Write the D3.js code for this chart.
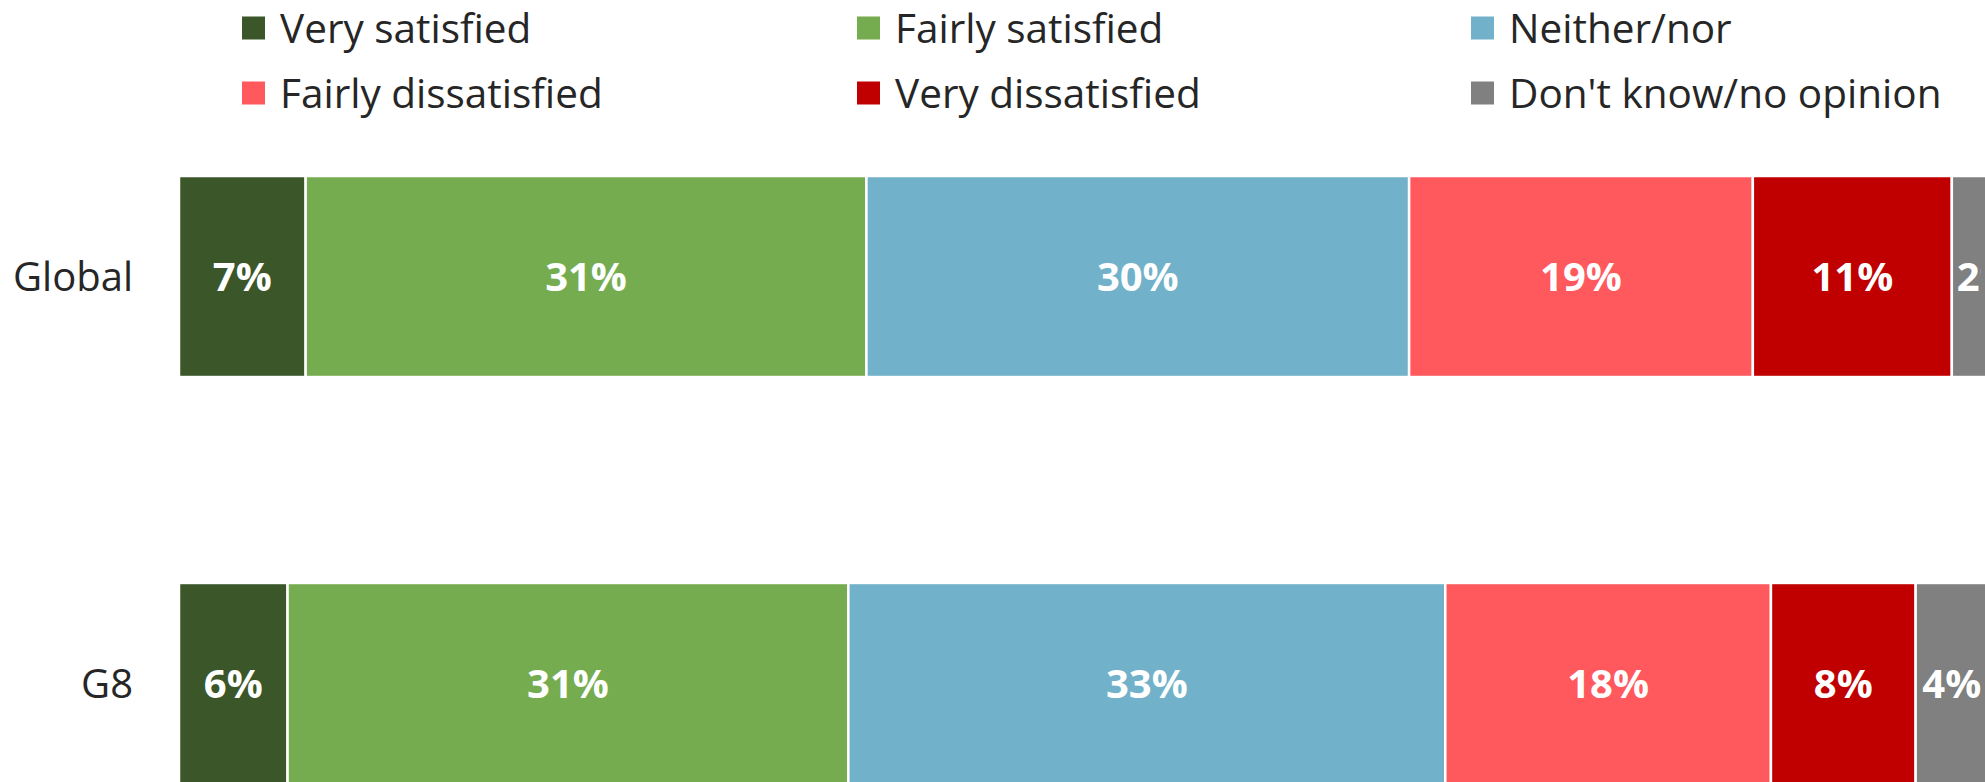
<!DOCTYPE html>
<html>
<head>
<meta charset="utf-8">
<script src="https://cdn.jsdelivr.net/npm/d3@7"></script>
<style>
  body { margin: 0; background: #fff; overflow: hidden; }
  text { font-family: "Open Sans", "Noto Sans", sans-serif; }
</style>
</head>
<body>
<script>
// data
var categories = ["Global", "G8"];
var seriesNames = ["Very satisfied", "Fairly satisfied", "Neither/nor",
                   "Fairly dissatisfied", "Very dissatisfied", "Don't know/no opinion"];
var globalValues = [7, 31, 30, 19, 11, 2];
var g8Values = [6, 31, 33, 18, 8, 4];
var colors = ["#3b5629", "#75ac50", "#71b1c9", "#ff595e", "#c00000", "#808080"];

var W = 1985, H = 782;

var svg = d3.select("body")
    .append("svg")
    .attr("width", W)
    .attr("height", H);

// labels are clipped a little inside the right edge
svg.append("clipPath")
    .attr("id", "labelClip")
    .append("rect")
    .attr("x", 0).attr("y", 0)
    .attr("width", W - 4).attr("height", H);

// scales
var xScale = d3.scaleLinear()
    .domain([0, 100])
    .range([179, 1988]);

var yScale = d3.scaleBand()
    .domain(categories)
    .range([176, 784])
    .paddingInner(0.506)
    .paddingOuter(0);

var color = d3.scaleOrdinal()
    .domain(seriesNames)
    .range(colors);

// build rows of stacked segments
var rows = [
    { cat: "Global", values: globalValues },
    { cat: "G8", values: g8Values }
];
rows.forEach(function(r) {
    var acc = 0;
    r.segs = r.values.map(function(v, i) {
        var s = { cat: r.cat, name: seriesNames[i], value: v, x0: acc, x1: acc + v };
        acc += v;
        return s;
    });
});

var row = svg.selectAll("g.row")
    .data(rows)
    .enter()
    .append("g")
    .attr("class", "row");

row.selectAll("rect")
    .data(function(d) { return d.segs; })
    .enter()
    .append("rect")
    .attr("x", function(d) { return xScale(d.x0); })
    .attr("y", function(d) { return yScale(d.cat); })
    .attr("width", function(d) { return xScale(d.x1) - xScale(d.x0); })
    .attr("height", yScale.bandwidth())
    .attr("fill", function(d) { return color(d.name); })
    .attr("stroke", "#fff")
    .attr("stroke-width", 2.5);

// value labels: centred, but a label that would run off the page starts inside its segment
row.append("g")
    .attr("clip-path", "url(#labelClip)")
    .selectAll("text.val")
    .data(function(d) { return d.segs; })
    .enter()
    .append("text")
    .attr("class", "val")
    .attr("y", function(d) { return yScale(d.cat) + yScale.bandwidth() / 2; })
    .attr("dy", "0.36em")
    .attr("fill", "#fff")
    .attr("font-weight", "bold")
    .attr("font-size", 40)
    .text(function(d) { return d.value + "%"; })
    .each(function(d) {
        var t = d3.select(this);
        var cx = (xScale(d.x0) + xScale(d.x1)) / 2;
        var len = this.getComputedTextLength();
        if (cx + len / 2 > W) {
            t.attr("x", xScale(d.x0) + 5).attr("text-anchor", "start");
        } else {
            t.attr("x", cx).attr("text-anchor", "middle");
        }
    });

// category labels
svg.selectAll("text.cat")
    .data(categories)
    .enter()
    .append("text")
    .attr("class", "cat")
    .attr("x", 133)
    .attr("y", function(d) { return yScale(d) + yScale.bandwidth() / 2; })
    .attr("dy", "0.36em")
    .attr("text-anchor", "end")
    .attr("fill", "#262626")
    .attr("font-size", 40)
    .text(function(d) { return d; });

// legend, 3 columns x 2 rows
var legendX = [242, 857, 1471];
var legendY = [28, 93];

var legend = svg.selectAll("g.legend")
    .data(seriesNames)
    .enter()
    .append("g")
    .attr("class", "legend")
    .attr("transform", function(d, i) {
        return "translate(" + legendX[i % 3] + "," + legendY[Math.floor(i / 3)] + ")";
    });

legend.append("rect")
    .attr("x", 0)
    .attr("y", -11.5)
    .attr("width", 23)
    .attr("height", 23)
    .attr("fill", function(d) { return color(d); });

legend.append("text")
    .attr("x", 38)
    .attr("y", 0)
    .attr("dy", "0.36em")
    .attr("fill", "#262626")
    .attr("font-size", 40.5)
    .text(function(d) { return d; });
</script>
</body>
</html>
